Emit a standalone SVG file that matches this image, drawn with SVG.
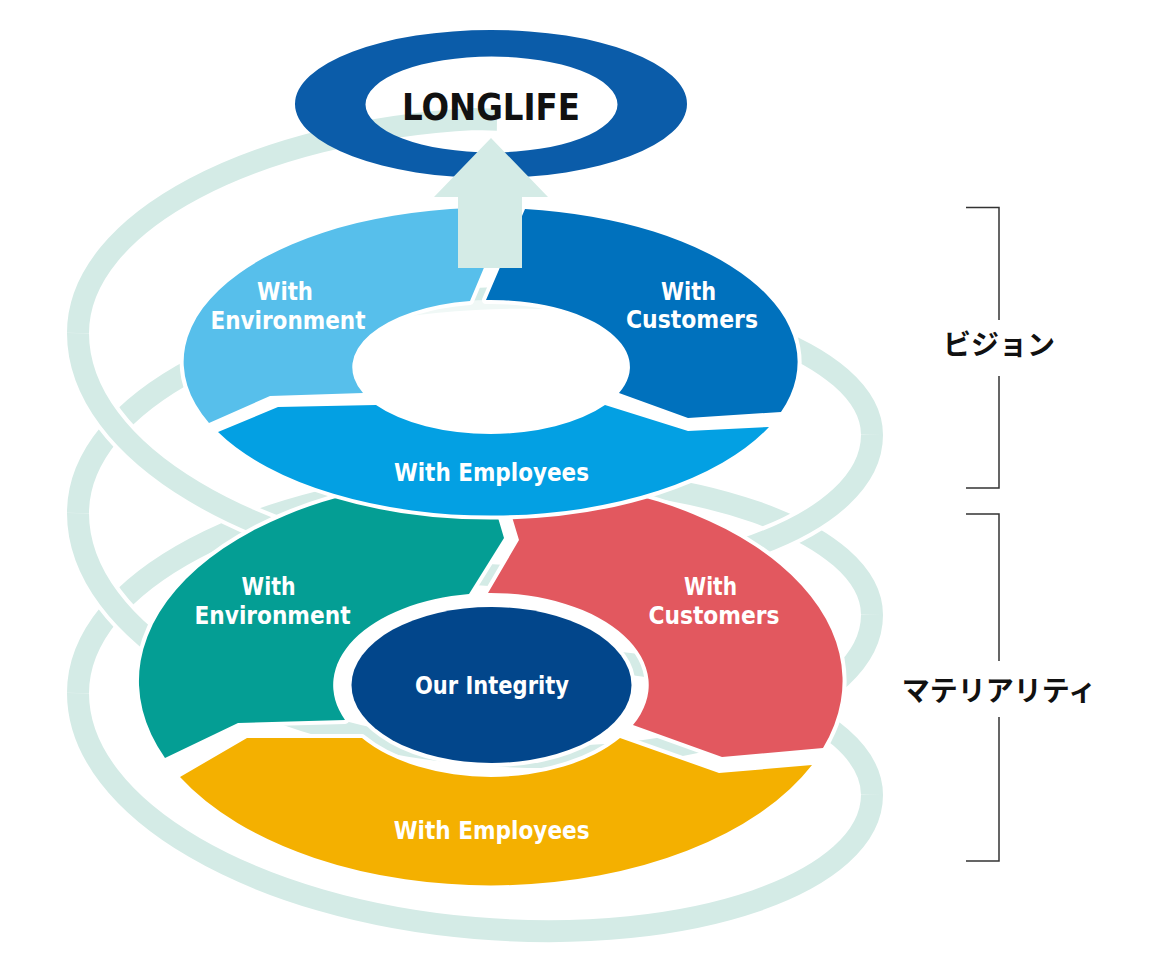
<svg xmlns="http://www.w3.org/2000/svg" xmlns:xlink="http://www.w3.org/1999/xlink" width="1152" height="972" viewBox="0 0 1152 972">
<style>
.band{fill:none;stroke:#d4ebe6;stroke-width:22}
.casing{fill:none;stroke:#fff;stroke-width:30}
.seg{stroke:#fff;stroke-width:8;stroke-linejoin:round;paint-order:stroke}
.lbl{font-family:'DejaVu Sans Condensed','DejaVu Sans',sans-serif;font-stretch:condensed;font-weight:bold;font-size:24px;fill:#fff;text-anchor:middle}
.jp{font-family:'Noto Sans CJK JP',sans-serif;font-weight:bold;font-size:28px;fill:#111;text-anchor:middle}
.brk{fill:none;stroke:#333;stroke-width:1.5}
</style>
<defs>
<path id="b0" d="M497,119.3 L475,119 C255.7,134 78,227.35 78,339"/>
<path id="f1" d="M78,339 C78,458.94 255.7,559 475,574 C694.3,589 872,518.94 872,429"/>
<path id="b1" d="M872,429 C872,347.35 694.3,284 475,299 C255.7,314 78,407.35 78,519"/>
<path id="f2" d="M78,519 C78,638.94 255.7,739 475,754 C694.3,769 872,698.94 872,609"/>
<path id="b2" d="M872,609 C872,527.35 694.3,464 475,479 C255.7,494 78,587.35 78,699"/>
<path id="f3" d="M78,699 C78,815.6 255.7,913 475,928 C694.3,943 872,875.6 872,789"/>
<path id="b3" d="M872,789 C872,707.35 694.3,644 475,659"/>
</defs>
<g id="spiral" transform="matrix(1,0.015,0,1,0,-7.125)">
<use xlink:href="#b0" class="band"/>
<use xlink:href="#b1" class="band"/>
<use xlink:href="#b2" class="band"/>
<use xlink:href="#b3" class="band"/>
<use xlink:href="#f1" class="casing"/>
<use xlink:href="#f1" class="band"/>
<use xlink:href="#f2" class="casing"/>
<use xlink:href="#f2" class="band"/>
<use xlink:href="#f3" class="casing"/>
<use xlink:href="#f3" class="band"/>
</g>
<g id="longlife">
<path fill="#0b5ca9" fill-rule="evenodd" d="M295,104 A196,74 0 1 0 687,104 A196,74 0 1 0 295,104 Z M365.5,104.5 A126,48 0 1 1 617.5,104.5 A126,48 0 1 1 365.5,104.5 Z"/>
<text x="491" y="120" textLength="178" lengthAdjust="spacingAndGlyphs" style="font-family:'DejaVu Sans Condensed','DejaVu Sans',sans-serif;font-stretch:condensed;font-weight:bold;font-size:38px;fill:#111;text-anchor:middle">LONGLIFE</text>
</g>
<g id="materiality">
<g id="m-environment">
<path class="seg" fill="#049e94" d="M486,477 A352,204 0 0 0 165,758 L238,723 L345,720 A158,92 0 0 1 469,594 L504,538 Z"/>
<text class="lbl" x="268.6" y="595" textLength="54" lengthAdjust="spacingAndGlyphs">With</text>
<text class="lbl" x="272.5" y="624" textLength="156" lengthAdjust="spacingAndGlyphs">Environment</text>
</g>
<g id="m-customers">
<path class="seg" fill="#e2585f" d="M500,477 A352,204 0 0 1 823,748 L722,757 L633,725 A158,92 0 0 0 488,593 L519,540 Z"/>
<text class="lbl" x="710.5" y="595" textLength="53" lengthAdjust="spacingAndGlyphs">With</text>
<text class="lbl" x="714" y="624" textLength="131" lengthAdjust="spacingAndGlyphs">Customers</text>
</g>
<g id="m-employees">
<path class="seg" fill="#f4b000" d="M180,777 A352,204 0 0 0 812,765 L719,773 L620,738 A158,92 0 0 1 362,738 L247,738 Z"/>
<text class="lbl" x="491.7" y="839" textLength="196" lengthAdjust="spacingAndGlyphs">With Employees</text>
</g>
<g id="m-integrity">
<ellipse class="seg" fill="#02468b" cx="491.5" cy="685" rx="140" ry="78"/>
<text class="lbl" x="492" y="694" textLength="154" lengthAdjust="spacingAndGlyphs">Our Integrity</text>
</g>
</g>
<g id="vision">
<ellipse fill="#fff" fill-opacity="0.65" cx="491" cy="367" rx="139" ry="67"/>
<g id="v-environment">
<path class="seg" fill="#57bfeb" d="M509,208 A307,154 0 0 0 209,423 L270,396 L363,393 A139,67 0 0 1 470,301 Z"/>
<text class="lbl" x="285" y="300" textLength="56" lengthAdjust="spacingAndGlyphs">With</text>
<text class="lbl" x="288" y="329" textLength="155" lengthAdjust="spacingAndGlyphs">Environment</text>
</g>
<g id="v-customers">
<path class="seg" fill="#0071bd" d="M525,209 A307,154 0 0 1 781,412 L688,418 L619,393 A139,67 0 0 0 486,300 Z"/>
<text class="lbl" x="688.5" y="300" textLength="55" lengthAdjust="spacingAndGlyphs">With</text>
<text class="lbl" x="692" y="328" textLength="132" lengthAdjust="spacingAndGlyphs">Customers</text>
</g>
<g id="v-employees">
<path class="seg" fill="#03a0e3" d="M218,432 A307,154 0 0 0 769,427 L688,431 L605,405 A139,67 0 0 1 376,405 L278,407 Z"/>
<text class="lbl" x="491.5" y="481" textLength="195" lengthAdjust="spacingAndGlyphs">With Employees</text>
</g>
</g>
<g id="connectors">
<polygon fill="#d4ebe6" points="491,138 548,197 522,197 522,268 458,268 458,197 434,197"/>
</g>
<g id="bracket-vision">
<path class="brk" d="M966,207.5 H999 V320 M999,376 V488 H966"/>
<text class="jp" x="999" y="355">ビジョン</text>
</g>
<g id="bracket-materiality">
<path class="brk" d="M966,514 H999 V661 M999,717 V861 H966"/>
<text class="jp" x="999" y="701">マテリアリティ</text>
</g>
</svg>
